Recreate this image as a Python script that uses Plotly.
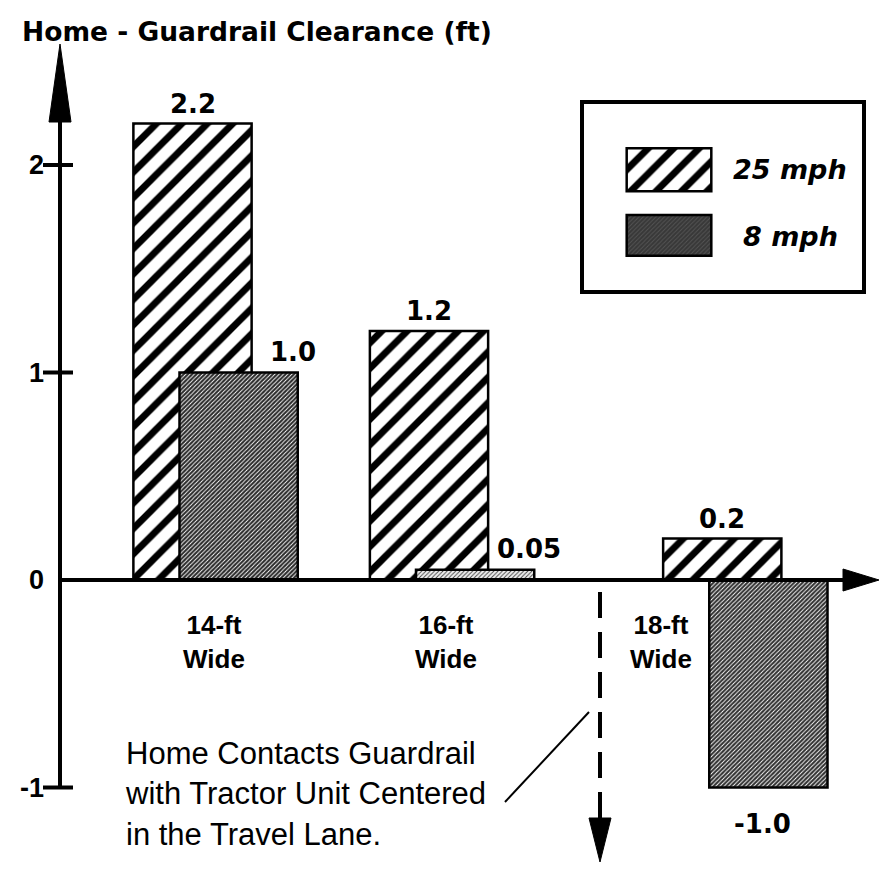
import plotly.graph_objects as go

# ---- data -------------------------------------------------------------
categories = ["14-ft<br>Wide", "16-ft<br>Wide", "18-ft<br>Wide"]
series_names = ["25 mph", "8 mph"]
clearance_25mph = [2.2, 1.2, 0.2]
clearance_8mph = [1.0, 0.05, -1.0]
y_tick_vals = [-1, 0, 1, 2]
y_tick_text = ["-1", "0", "1", "2"]
title_text = "Home - Guardrail Clearance (ft)"
note_text = ("Home Contacts Guardrail<br>with Tractor Unit Centered<br>"
             "in the Travel Lane.")

# ---- layout helpers ---------------------------------------------------
W, H = 881, 870
FONT = "Liberation Sans, Arial, Helvetica, sans-serif"
WIDE = "DejaVu Sans, Liberation Sans, Arial, sans-serif"
group_pos = [0.0, 1.0, 2.24]          # x position of each width group
pair_offset = 0.195                   # 8 mph bar sits right of 25 mph bar
bar_width = 0.5
cat_label_pos = [0.09, 1.07, 1.98]
dark_fill = ["#2a2a2a", "#eeeeee", "#313131"]
grain_fg = ["#434343", "#a8a8a8", "#4a4a4a"]


def px(x):
    return x / W


def py(y):
    return 1 - y / H


def fmt(v):
    return f"{v:.1f}" if round(v, 1) == v else f"{v:.2f}"


hatch = dict(shape="/", fgcolor="black", bgcolor="white", size=18,
             solidity=0.38, fgopacity=1)
grain = dict(shape="/", fgcolor=grain_fg, bgcolor=dark_fill, size=3,
             solidity=0.3, fgopacity=1)

fig = go.Figure()

# main bars
fig.add_bar(
    x=group_pos, y=clearance_25mph, width=bar_width, name=series_names[0],
    marker=dict(color="white", opacity=1, line=dict(color="black", width=2.5),
                pattern=hatch),
    showlegend=False, xaxis="x", yaxis="y",
)
fig.add_bar(
    x=[g + pair_offset for g in group_pos], y=clearance_8mph, width=bar_width,
    name=series_names[1],
    marker=dict(color=dark_fill, opacity=1, line=dict(color="black", width=2.5),
                pattern=grain),
    showlegend=False, xaxis="x", yaxis="y",
)

# legend swatches drawn on a small inset axis
fig.add_bar(
    x=[0.5], y=[0.4], base=[0.6], width=[1], xaxis="x2", yaxis="y2",
    marker=dict(color="white", opacity=1, line=dict(color="black", width=2.5),
                pattern=hatch),
    showlegend=False,
)
fig.add_bar(
    x=[0.5], y=[0.38], base=[0], width=[1], xaxis="x2", yaxis="y2",
    marker=dict(color="#383838", opacity=1, line=dict(color="black", width=2.5),
                pattern=dict(shape="/", fgcolor="#555555", bgcolor="#383838",
                             size=3, solidity=0.3, fgopacity=1)),
    showlegend=False,
)

x_lo, x_hi = (0 - 192.5) / 236.5, (W - 192.5) / 236.5
y_lo, y_hi = (580 - H) / 207.5, 580 / 207.5

fig.update_layout(
    width=W, height=H, margin=dict(l=0, r=0, t=0, b=0),
    paper_bgcolor="white", plot_bgcolor="rgba(0,0,0,0)",
    barmode="overlay", showlegend=False,
    font=dict(family=FONT, color="black"),
    xaxis=dict(range=[x_lo, x_hi], visible=False, domain=[0, 1]),
    yaxis=dict(
        range=[y_lo, y_hi], domain=[0, 1], anchor="free", position=px(60),
        showgrid=False, zeroline=False, showline=False, ticks="",
        tickvals=y_tick_vals, ticktext=y_tick_text, ticklabelstandoff=16,
        tickfont=dict(size=27, weight=700, family=FONT),
    ),
    xaxis2=dict(domain=[px(625), px(713)], range=[-0.02, 1.02], visible=False,
                anchor="y2"),
    yaxis2=dict(domain=[py(258), py(146)], range=[-0.02, 1.02], visible=False,
                anchor="x2"),
)

shapes = []
# legend frame
shapes.append(dict(type="rect", xref="paper", yref="paper",
                   x0=px(582), x1=px(864), y0=py(292), y1=py(102),
                   line=dict(color="black", width=4), fillcolor="white",
                   layer="below"))
# vertical axis with arrow
shapes.append(dict(type="line", xref="paper", yref="y", x0=px(60), x1=px(60),
                   y0=-1, y1=2.21, line=dict(color="black", width=4)))
shapes.append(dict(type="path", xref="paper", yref="paper",
                   path=f"M{px(49)},{py(122)} L{px(71)},{py(122)} L{px(60)},{py(44)} Z",
                   fillcolor="black", line=dict(color="black", width=1)))
# tick marks
for v in [-1, 1, 2]:
    shapes.append(dict(type="line", xref="paper", yref="y", x0=px(43), x1=px(73),
                       y0=v, y1=v, line=dict(color="black", width=4)))
# horizontal axis with arrow
shapes.append(dict(type="line", xref="paper", yref="y", x0=px(60), x1=px(846),
                   y0=0, y1=0, line=dict(color="black", width=4)))
shapes.append(dict(type="path", xref="paper", yref="paper",
                   path=f"M{px(843)},{py(569)} L{px(843)},{py(591)} L{px(879)},{py(580)} Z",
                   fillcolor="black", line=dict(color="black", width=1)))
# dashed contact line with arrow
shapes.append(dict(type="line", xref="paper", yref="paper", x0=px(600), x1=px(600),
                   y0=py(592), y1=py(820),
                   line=dict(color="black", width=4, dash="26px,14px")))
shapes.append(dict(type="path", xref="paper", yref="paper",
                   path=f"M{px(589)},{py(818)} L{px(611)},{py(818)} L{px(600)},{py(862)} Z",
                   fillcolor="black", line=dict(color="black", width=1)))
# leader from note to dashed line
shapes.append(dict(type="line", xref="paper", yref="paper", x0=px(505), x1=px(589),
                   y0=py(802), y1=py(712), line=dict(color="black", width=2)))
fig.update_layout(shapes=shapes)

ann = []
ann.append(dict(text=title_text, xref="paper", yref="paper", x=px(20), y=py(31),
                xanchor="left", yanchor="middle", showarrow=False,
                font=dict(size=26.5, weight=700, family=WIDE)))
# value labels
for g, v in zip(group_pos, clearance_25mph):
    ann.append(dict(text=fmt(v), x=g, y=v, xref="x", yref="y", showarrow=False,
                    yanchor="bottom", yshift=3,
                    font=dict(size=26, weight=700, family=WIDE)))
for g, v in zip(group_pos, clearance_8mph):
    if v >= 0:
        ann.append(dict(text=fmt(v), x=g + pair_offset, y=v, xref="x", yref="y",
                        showarrow=False, yanchor="bottom", yshift=4, xshift=54,
                        font=dict(size=26, weight=700, family=WIDE)))
    else:
        ann.append(dict(text=fmt(v), x=g + pair_offset, y=v, xref="x", yref="y",
                        showarrow=False, yanchor="top", yshift=-19, xshift=-6,
                        font=dict(size=26, weight=700, family=WIDE)))
# category labels
for xp, c in zip(cat_label_pos, categories):
    ann.append(dict(text=c, x=xp, y=0, xref="x", yref="y", showarrow=False,
                    yanchor="top", yshift=-28,
                    font=dict(size=26, weight=700, family=FONT)))
# legend labels
ann.append(dict(text=f"<i>{series_names[0]}</i>", xref="paper", yref="paper",
                x=px(790), y=py(169), xanchor="center", yanchor="middle",
                showarrow=False, font=dict(size=27, weight=700, family=WIDE)))
ann.append(dict(text=f"<i>{series_names[1]}</i>", xref="paper", yref="paper",
                x=px(790), y=py(236), xanchor="center", yanchor="middle",
                showarrow=False, font=dict(size=27, weight=700, family=WIDE)))
# note
ann.append(dict(text=note_text, xref="paper", yref="paper", x=px(123), y=py(734),
                xanchor="left", yanchor="top", align="left", showarrow=False,
                font=dict(size=31, family=FONT)))
fig.update_layout(annotations=ann)

fig.write_html("out.html")
